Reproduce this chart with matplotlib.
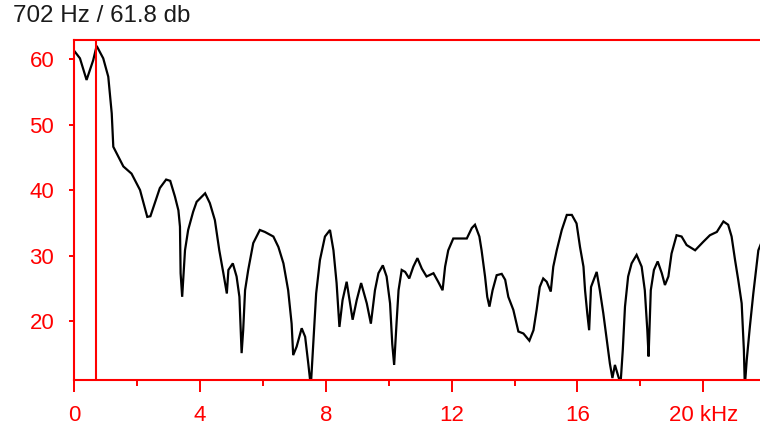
import matplotlib
matplotlib.use("Agg")
import matplotlib.pyplot as plt
from matplotlib.ticker import FixedLocator, FixedFormatter

# ---- data ----
freq_khz = [0.02, 0.18, 0.39, 0.6, 0.71, 0.92, 1.08, 1.19, 1.24, 1.56, 1.82, 2.09,
            2.32, 2.42, 2.72, 2.92, 3.05, 3.2, 3.31, 3.36, 3.38, 3.43, 3.52, 3.62,
            3.78, 3.89, 4.16, 4.31, 4.47, 4.61, 4.74, 4.85, 4.9, 5.04, 5.16, 5.25,
            5.32, 5.37, 5.43, 5.53, 5.69, 5.9, 6.06, 6.33, 6.49, 6.65, 6.8, 6.91,
            6.96, 7.07, 7.23, 7.34, 7.44, 7.52, 7.6, 7.69, 7.81, 7.97, 8.13, 8.24,
            8.34, 8.43, 8.53, 8.66, 8.77, 8.85, 8.98, 9.12, 9.3, 9.43, 9.56, 9.67,
            9.81, 9.93, 10.04, 10.11, 10.17, 10.25, 10.31, 10.41, 10.52, 10.65,
            10.78, 10.91, 11.05, 11.2, 11.42, 11.57, 11.71, 11.79, 11.89, 12.05,
            12.21, 12.48, 12.64, 12.74, 12.88, 12.95, 13.06, 13.13, 13.2, 13.3,
            13.43, 13.59, 13.7, 13.8, 13.96, 14.12, 14.28, 14.47, 14.6, 14.7, 14.8,
            14.91, 15.02, 15.15, 15.23, 15.34, 15.5, 15.66, 15.82, 15.97, 16.08,
            16.19, 16.24, 16.31, 16.37, 16.43, 16.61, 16.71, 16.82, 16.93, 17.03,
            17.11, 17.19, 17.3, 17.37, 17.44, 17.51, 17.61, 17.72, 17.88, 18.04,
            18.14, 18.22, 18.26, 18.33, 18.43, 18.55, 18.68, 18.78, 18.89, 18.99,
            19.15, 19.31, 19.47, 19.74, 20.0, 20.21, 20.43, 20.64, 20.79, 20.9,
            21.01, 21.11, 21.22, 21.29, 21.32, 21.38, 21.48, 21.59, 21.75, 21.85]
level_db = [61.1, 60.1, 56.8, 59.8, 62.0, 60.1, 57.3, 51.7, 46.6, 43.6, 42.5, 40.0,
            35.9, 36.0, 40.3, 41.6, 41.4, 39.0, 36.9, 34.4, 27.3, 23.7, 30.8, 33.9,
            36.7, 38.2, 39.5, 38.0, 35.4, 30.8, 27.3, 24.2, 27.8, 28.8, 26.8, 23.7,
            15.1, 18.6, 24.7, 27.8, 31.9, 33.9, 33.6, 32.9, 31.3, 28.8, 24.7, 19.6,
            14.8, 16.1, 18.9, 17.6, 13.5, 10.0, 16.6, 24.2, 29.3, 32.9, 33.9, 30.8,
            25.8, 19.1, 23.2, 26.0, 22.7, 20.2, 23.2, 25.8, 22.7, 19.6, 24.7, 27.3,
            28.5, 26.8, 22.7, 16.5, 13.3, 20.0, 24.7, 27.8, 27.5, 26.5,
            28.3, 29.6, 28.0, 26.8, 27.3, 26.0, 24.7, 28.3, 30.8, 32.6,
            32.6, 32.6, 34.2, 34.7, 32.9, 30.8, 26.8, 23.7, 22.2, 24.7,
            27.0, 27.2, 26.3, 23.7, 21.7, 18.4, 18.1, 17.0, 18.6, 21.7, 25.2,
            26.5, 26.0, 24.5, 28.3, 30.8, 33.9, 36.2, 36.2, 34.9, 31.3,
            28.3, 24.7, 21.2, 18.6, 25.2, 27.5, 24.7, 21.2, 17.1, 13.5,
            11.3, 13.3, 11.5, 10.5, 15.6, 22.2, 26.8, 28.8, 30.1, 28.3,
            24.7, 18.6, 14.6, 24.7, 27.8, 29.1, 27.3, 25.5, 26.8, 30.3,
            33.1, 32.9, 31.6, 30.8, 32.1, 33.1, 33.6, 35.2, 34.7, 32.9,
            29.3, 26.3, 22.7, 15.6, 10.0, 14.0, 19.1, 24.2, 30.8, 32.0]

cursor_khz = 0.702
title_text = "702 Hz / 61.8 db"
x_major = [0, 4, 8, 12, 16, 20]
x_major_labels = ["0", "4", "8", "12", "16", "20 kHz"]
x_minor = [2, 6, 10, 14, 18]
y_major = [20, 30, 40, 50, 60]

RED = "#ff0000"
plt.rcParams['font.family'] = ['Liberation Sans', 'DejaVu Sans']

fig = plt.figure(figsize=(7.6, 4.25), dpi=100)
ax = fig.add_axes([74.3 / 760, 45 / 425, (760 - 74.3) / 760, 340 / 425])

ax.plot(freq_khz, level_db, color="black", lw=1.6, solid_joinstyle="miter")
ax.axvline(cursor_khz, color=RED, lw=1.5)

ax.set_xlim(0, (760 - 74.3) / 31.45)
ax.set_ylim(11.0, 62.9)

for side in ["left", "bottom", "top"]:
    ax.spines[side].set_color(RED)
    ax.spines[side].set_linewidth(1.5)
ax.spines["right"].set_visible(False)

ax.xaxis.set_major_locator(FixedLocator(x_major))
ax.xaxis.set_major_formatter(FixedFormatter(x_major_labels))
ax.xaxis.set_minor_locator(FixedLocator(x_minor))
ax.yaxis.set_major_locator(FixedLocator(y_major))

ax.tick_params(axis="x", which="major", direction="out", length=8.6, width=1.4,
               color=RED, labelcolor=RED, labelsize=16, pad=9.3)
ax.tick_params(axis="x", which="minor", direction="out", length=4.3, width=1.4,
               color=RED)
ax.tick_params(axis="y", which="major", direction="out", length=3.6, width=1.4,
               color=RED, labelcolor=RED, labelsize=16, pad=10.8)

fig.text(13 / 760, 1 - 16 / 425, title_text, fontsize=17.4, color="#1a1a1a",
         ha="left", va="center")

fig.savefig("out.png", dpi=100, facecolor="white")
